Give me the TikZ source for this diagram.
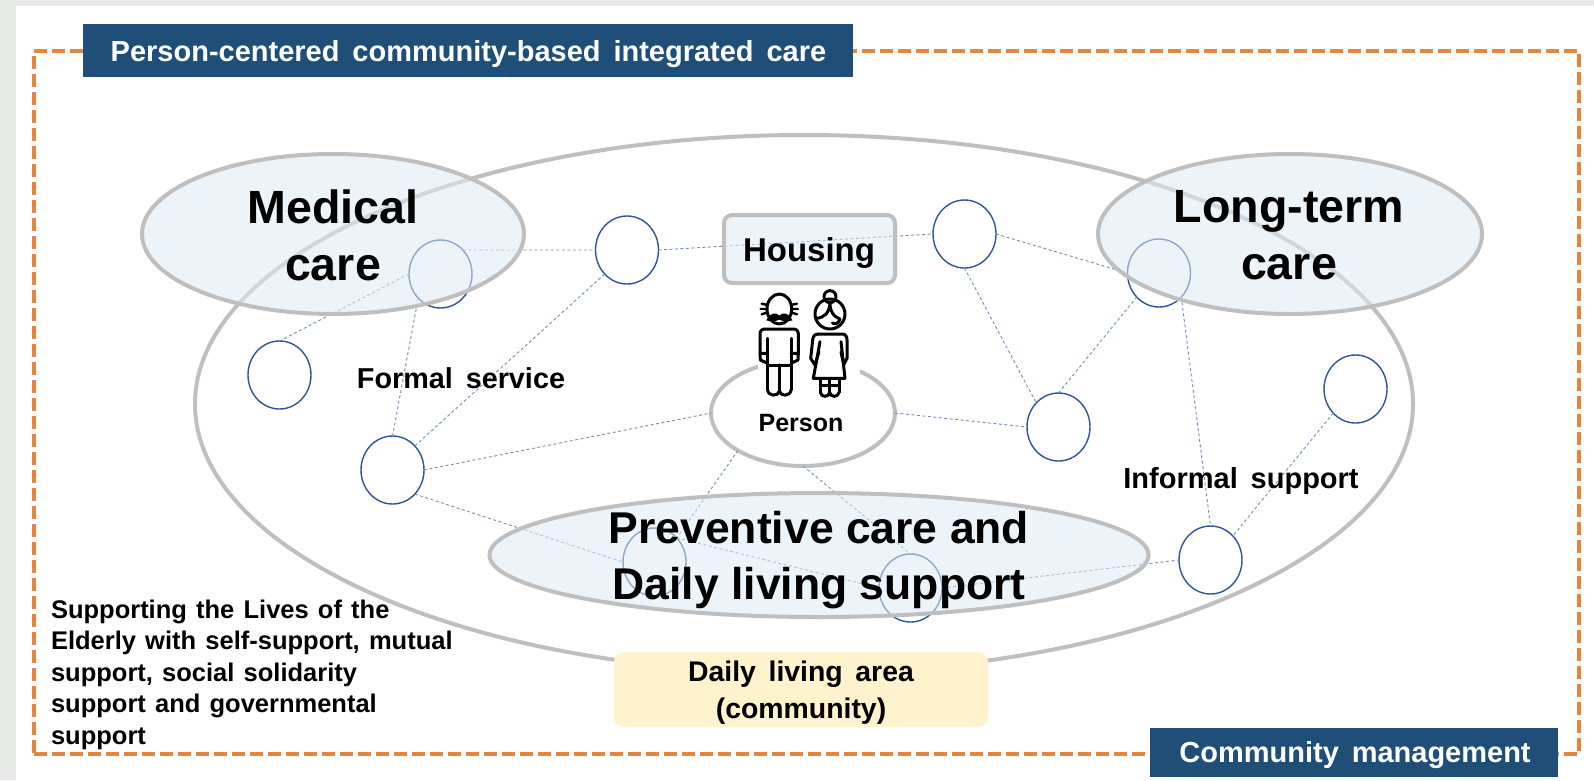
\documentclass[tikz,border=0pt]{standalone}
\usepackage{fontspec}
\setmainfont{Liberation Sans}[WordSpace=1.6]
\usetikzlibrary{shapes.geometric}
\definecolor{pagegrey}{HTML}{E8EAE8}
\definecolor{navy}{HTML}{1F4E79}
\definecolor{frameorange}{HTML}{E8853C}
\definecolor{ringgrey}{HTML}{BFBFBF}
\definecolor{bubble}{HTML}{DEEBF7}
\definecolor{circblue}{HTML}{2F5597}
\definecolor{linkblue}{HTML}{6C8CCB}
\definecolor{areayellow}{HTML}{FFF2CC}
\newcommand{\fs}[2]{\fontsize{#1}{#2}\selectfont\bfseries}
\newcommand{\wordgap}[1]{\setlength{\spaceskip}{#1em}}
\tikzset{
  site/.style={ellipse,draw=circblue,line width=1.4pt,minimum width=63pt,minimum height=68pt,inner sep=0pt,outer sep=0pt},
  link/.style={draw=linkblue,line width=0.9pt,dash pattern=on 3pt off 2.5pt},
  care/.style={ellipse,draw=ringgrey,line width=4pt,fill=bubble,fill opacity=.55,draw opacity=1,inner sep=0pt,outer sep=0pt},
  banner/.style={rectangle,fill=navy,inner sep=0pt,outer sep=0pt},
  lbl/.style={inner sep=0pt,outer sep=0pt,text=black,align=center},
  icon/.style={draw=black,line width=3pt,line cap=round,line join=round}
}
\begin{document}
\begin{tikzpicture}[x=1pt,y=-1pt]
\useasboundingbox (0,0) rectangle (1594,780);
\fill[pagegrey] (0,0) rectangle (1594,780);
\fill[white] (16,6) rectangle (1594,780);
% frame
\node[rectangle,draw=frameorange,line width=4.5pt,dash pattern=on 13pt off 5pt,minimum width=1545pt,minimum height=703pt,inner sep=0pt,outer sep=0pt] (frame) at (806.5,402.5) {};
% community ring
\node[ellipse,draw=ringgrey,line width=4pt,minimum width=1218pt,minimum height=538pt,inner sep=0pt,outer sep=0pt] (area) at (804,404) {};
% sites
\node[site] (cMed) at (440.5,274) {};
\node[site] (cTwo) at (627,250) {};
\node[site] (cLeft) at (279.5,375) {};
\node[site] (cLow) at (392.5,470) {};
\node[site] (cTop) at (964.5,234) {};
\node[site] (cLong) at (1159,273) {};
\node[site] (cMid) at (1058.5,427) {};
\node[site] (cFar) at (1355.5,389) {};
\node[site] (cInf) at (1210.5,560) {};
\node[site] (cPa) at (654.5,562) {};
\node[site] (cPb) at (910.5,588) {};
% person
\node[ellipse,draw=ringgrey,line width=4pt,fill=white,minimum width=184pt,minimum height=106pt,inner sep=0pt,outer sep=0pt] (person) at (803,413) {};
% links
\draw[link] (cMed.north east) -- (cTwo.west);
\draw[link] (cMed.west) -- (cLeft.north);
\draw[link] (cMed.south west) -- (cLow.north);
\draw[link] (cTwo.south west) -- (cLow.north east);
\draw[link] (cTwo.east) -- (cTop.west);
\draw[link] (cTop.east) -- (cLong.west);
\draw[link] (cTop.south) -- (cMid.north west);
\draw[link] (cMid.north) -- (cLong.south west);
\draw[link] (cLong.south east) -- (cInf.north);
\draw[link] (cFar.south west) -- (cInf.north east);
\draw[link] (cLow.east) -- (person.west);
\draw[link] (person.east) -- (cMid.west);
\draw[link] (cLow.south east) -- (cPa.west);
\draw[link] (cPa.north east) -- (cPb.west);
\draw[link] (cPb.east) -- (cInf.west);
\draw[link] (person.south west) -- (cPa.north east);
\draw[link] (person.south) -- (cPb.north);
% care bubbles
\node[care,minimum width=382pt,minimum height=160pt] (medical) at (333,234) {};
\node[care,minimum width=384pt,minimum height=160pt] (longterm) at (1290,234) {};
\node[care,minimum width=659pt,minimum height=124pt] (prevent) at (819,555) {};
\node[rectangle,rounded corners=8pt,draw=ringgrey,line width=4pt,fill=bubble,fill opacity=.55,draw opacity=1,minimum width=171pt,minimum height=68pt,inner sep=0pt,outer sep=0pt] (housing) at (809.5,249) {};
\node[lbl,font=\fs{46.6}{57}] (medicalTxt) at (333,235) {Medical\\care};
\node[lbl,font=\fs{46.6}{57}] (longtermTxt) at (1289,235) {Long-term\\care};
\node[lbl,font=\fs{44.5}{56}\wordgap{.278}] (preventTxt) at (819,560) {Preventive care and\\Daily living support};
\node[lbl,font=\fs{33}{36}] (housingTxt) at (809,253) {Housing};
% people
\fill[white] (758,340) rectangle (860,395);
\begin{scope}[shift={(745,285)},x=0.3333pt,y=-0.3333pt]
  % man
  \draw[icon] (103,72) ellipse [x radius=37,y radius=45];
  \draw[icon,line width=2.4pt] (50,56)--(68,60) (47,72)--(66,72) (50,88)--(68,82) (156,56)--(138,60) (159,72)--(140,72) (156,88)--(138,82);
  \fill[black] (64,106) .. controls (76,80) and (95,82) .. (103,92) .. controls (111,82) and (130,80) .. (142,106) .. controls (128,112) and (112,108) .. (103,104) .. controls (94,108) and (78,112) .. (64,106) -- cycle;
  \draw[icon] (60,132) -- (145,132) .. controls (155,132) and (160,138) .. (160,148) -- (160,205) -- (138,205);
  \draw[icon] (60,132) .. controls (50,132) and (45,138) .. (45,148) -- (45,205) -- (68,205);
  \draw[icon] (45,205) -- (46,225) -- (68,235) (160,205) -- (159,225) -- (138,235);
  \draw[icon] (68,160) -- (68,315) (138,160) -- (138,315) (68,240) -- (138,240) (103,240) -- (103,318);
  \draw[icon] (68,315) .. controls (70,335) and (100,335) .. (103,318) .. controls (106,335) and (136,335) .. (138,315);
  % woman
  \draw[icon] (255,35) circle [radius=18];
  \draw[icon] (255,87) circle [radius=45];
  \draw[icon] (213,100) .. controls (238,98) and (252,85) .. (255,56) .. controls (256,85) and (268,95) .. (285,102) .. controls (282,114) and (270,120) .. (262,114);
  \draw[icon] (220,147) -- (292,147) .. controls (302,147) and (306,155) .. (306,165) -- (306,220) -- (296,240) -- (288,200) (288,170) -- (300,280) -- (205,280) -- (225,170);
  \draw[icon] (220,147) .. controls (208,147) and (204,155) .. (203,165) -- (197,220) -- (210,240) -- (222,200);
  \draw[icon] (226,280) -- (226,322) (254,280) -- (254,322) (282,280) -- (282,322) (226,302) -- (282,302);
  \draw[icon] (226,322) .. controls (228,338) and (252,338) .. (254,322) .. controls (256,338) and (280,338) .. (282,322);
\end{scope}
% labels
\node[lbl,font=\fs{25}{28}] (personlbl) at (801,423) {Person};
\node[lbl,font=\fs{28.8}{30}] (formal) at (461,378) {Formal service};
\node[lbl,font=\fs{29}{30}] (informal) at (1241,481) {Informal support};
% daily living
\node[rectangle,rounded corners=10pt,fill=areayellow,minimum width=374pt,minimum height=75pt,inner sep=0pt,outer sep=0pt] (daily) at (801,689.5) {};
\node[lbl,font=\fs{28.4}{37}] (dailyTxt) at (801,692.5) {Daily living area\\(community)};
% left note
\node[lbl,align=left,anchor=west,font=\fs{25.5}{31.5}\wordgap{.36}] (note) at (51,674.5) {Supporting the Lives of the\\Elderly with self-support, mutual\\support, social solidarity\\support and governmental\\support};
% banners
\node[banner,minimum width=770pt,minimum height=53pt] (title) at (467.5,50.5) {};
\node[banner,minimum width=408pt,minimum height=49pt] (mgmt) at (1354,752.5) {};
\node[lbl,text=white,font=\fs{29}{30}] (titleTxt) at (468.5,54) {Person-centered community-based integrated care};
\node[lbl,text=white,font=\fs{29}{30}] (mgmtTxt) at (1355,755.5) {Community management};
\end{tikzpicture}
\end{document}
